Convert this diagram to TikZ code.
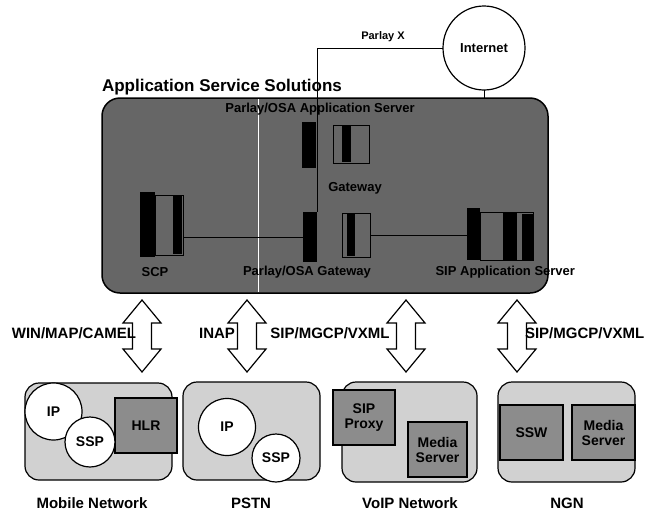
\documentclass[tikz,border=0pt]{standalone}
\usepackage{fontspec}
\setmainfont{Liberation Sans}
\usetikzlibrary{calc,shapes.geometric}
\tikzset{
  every node/.style={inner sep=0pt, outer sep=0pt},
  titlefont/.style={font=\bfseries\fontsize{17}{20}\selectfont},
  lblfont/.style={font=\bfseries\fontsize{15}{17}\selectfont},
  boxfont/.style={font=\bfseries\fontsize{13}{15}\selectfont},
  devfont/.style={font=\bfseries\fontsize{14}{15}\selectfont, align=center},
  smallfont/.style={font=\bfseries\fontsize{11}{13}\selectfont},
  mainbox/.style={draw, line width=1.5pt, fill=black!60, rounded corners=18pt, anchor=north west},
  netbox/.style={draw, line width=1.2pt, fill=black!18, rounded corners=14pt, anchor=north west},
  devbox/.style={draw, line width=1.2pt, fill=black!45, anchor=north west, devfont},
  devcirc/.style={draw, line width=1.2pt, fill=white, circle, devfont},
  srvbar/.style={fill=black, anchor=north west},
  srvframe/.style={draw=black, line width=1pt, anchor=north west},
  link/.style={line width=1pt},
  dblarr/.style={line width=1.2pt, fill=white, line join=miter}
}
\newcommand\dblarrow[2]{%
  \draw[dblarr] let \p1=(#1), \p2=(#2) in
    (\x1,\y1) -- ++(19pt,-23pt) -- ++(-9.5pt,0pt) -- (\x1+9.5pt,\y2+23pt)
    -- ++(9.5pt,0pt) -- (\x2,\y2) -- ++(-19pt,23pt) -- ++(9.5pt,0pt)
    -- (\x1-9.5pt,\y1-23pt) -- ++(-9.5pt,0pt) -- cycle;}
\begin{document}
\begin{tikzpicture}[x=1pt,y=-1pt]
\useasboundingbox (0,0) rectangle (664,517);

% Internet
\node[draw, line width=1.2pt, fill=white, ellipse, minimum width=82pt, minimum height=84pt, font=\bfseries\fontsize{13}{15}\selectfont] (inet) at (484,48) {Internet};
\node[smallfont] (plx) at (383,37) {Parlay X};

% Application Service Solutions box
\node[titlefont, anchor=base west] (ttl) at (102,91) {Application Service Solutions};
\node[mainbox, minimum width=446pt, minimum height=195pt] (ass) at (102,98) {};
\draw[white, line width=0.8pt] (258,99) -- (258,292);

% server icons
\node[srvbar, minimum width=14pt, minimum height=46pt] (asA) at (302,122) {};
\node[srvframe, minimum width=36pt, minimum height=38pt] (asB) at (333,125) {};
\node[srvbar, minimum width=9pt, minimum height=36pt] (asC) at (342,126) {};

\node[srvbar, minimum width=14pt, minimum height=50pt] (gwA) at (303,212) {};
\node[srvframe, minimum width=28pt, minimum height=44pt] (gwB) at (342,213) {};
\node[srvbar, minimum width=8pt, minimum height=42pt] (gwC) at (347,214) {};

\node[srvbar, minimum width=15pt, minimum height=65pt] (scpA) at (140,192) {};
\node[srvframe, minimum width=28pt, minimum height=60pt] (scpB) at (155,195) {};
\node[srvbar, minimum width=9pt, minimum height=58pt] (scpC) at (173,196) {};

\node[srvbar, minimum width=13pt, minimum height=52pt] (sipA) at (467,208) {};
\node[srvframe, minimum width=53pt, minimum height=48pt] (sipD) at (480,212) {};
\node[srvbar, minimum width=14pt, minimum height=48pt] (sipB) at (503,212) {};
\node[srvbar, minimum width=11pt, minimum height=46pt] (sipC) at (522,214) {};

% links inside box
\draw[link] (scpB.east |- gwA.center) -- (gwA.west);
\draw[link] (gwB.east) -- (sipA.west |- gwB.east);
\draw[link] (inet.west) -| (gwA.north east);
\draw[link] (inet.south) -- (ass.north -| inet.south);

% labels in box
\node[boxfont] (lasrv) at (320,109) {Parlay/OSA Application Server};
\node[boxfont] (lgw) at (355,188) {Gateway};
\node[boxfont] (lscp) at (155,272) {SCP};
\node[boxfont] (lpog) at (307,272) {Parlay/OSA Gateway};
\node[boxfont, anchor=east] (lsip) at (575,272) {SIP Application Server};

% bottom networks
\node[netbox, minimum width=147pt, minimum height=97pt] (mob) at (25,383) {};
\node[devbox, minimum width=62pt, minimum height=55pt] (hlr) at (115,398) {HLR};
\node[devcirc, minimum size=57pt] (mip) at (53.5,411.5) {IP};
\node[devcirc, minimum size=50pt] (mssp) at (90,442) {SSP};
\node[lblfont, anchor=base] (lmob) at (92,508) {Mobile Network};

\node[netbox, minimum width=137pt, minimum height=98pt] (pstn) at (183,382) {};
\node[devcirc, minimum size=57pt] (pip) at (227,427) {IP};
\node[devcirc, minimum size=48pt] (pssp) at (276,458) {SSP};
\node[lblfont, anchor=base] (lpstn) at (251,508) {PSTN};

\node[netbox, minimum width=135pt, minimum height=100pt] (voip) at (342,382) {};
\node[devbox, minimum width=62pt, minimum height=55pt] (sipp) at (333,390) {SIP\\Proxy};
\node[devbox, minimum width=59pt, minimum height=55pt] (vms) at (408,422) {Media\\Server};
\node[lblfont, anchor=base] (lvoip) at (410,508) {VoIP Network};

\node[netbox, minimum width=137pt, minimum height=100pt] (ngn) at (498,382) {};
\node[devbox, minimum width=63pt, minimum height=55pt] (ssw) at (500,405) {SSW};
\node[devbox, minimum width=63pt, minimum height=55pt] (nms) at (572,405) {Media\\Server};
\node[lblfont, anchor=base] (lngn) at (567,508) {NGN};

% double arrows
\coordinate (u1) at (142,300); \coordinate (d1) at (142,372);
\coordinate (u2) at (247,300); \coordinate (d2) at (247,372);
\coordinate (u3) at (406,300); \coordinate (d3) at (406,372);
\coordinate (u4) at (517,300); \coordinate (d4) at (517,372);
\dblarrow{u1}{d1}
\dblarrow{u2}{d2}
\dblarrow{u3}{d3}
\dblarrow{u4}{d4}

\node[lblfont, anchor=base east] (la1) at (136,338) {WIN/MAP/CAMEL};
\node[lblfont, anchor=base] (la2) at (217,338) {INAP};
\node[lblfont, anchor=base] (la3) at (330,338) {SIP/MGCP/VXML};
\node[lblfont, anchor=base west] (la4) at (525,338) {SIP/MGCP/VXML};
\end{tikzpicture}
\end{document}
